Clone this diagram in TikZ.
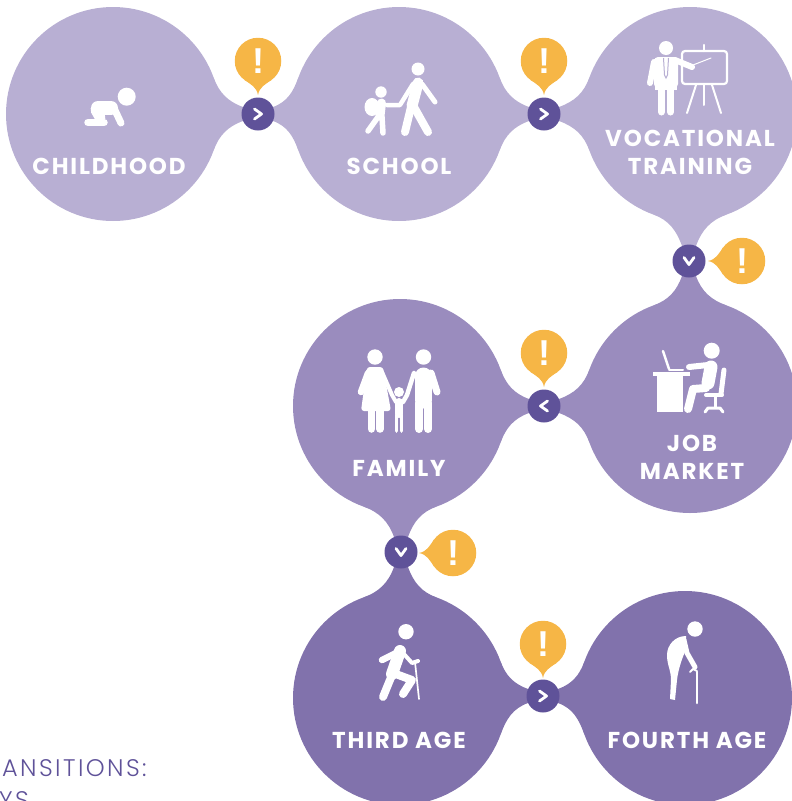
\documentclass[tikz,border=0pt]{standalone}
\usepackage{fontspec}
\setmainfont{Poppins}
\newfontfamily\capfont{Poppins}[LetterSpace=8]
\newfontfamily\captfont{Poppins Light}[LetterSpace=10]
\newfontfamily\markfont{Liberation Sans}
\usepackage{tikz}
\usetikzlibrary{calc,backgrounds}
\definecolor{lifeA}{HTML}{B8AFD3}
\definecolor{lifeB}{HTML}{9A8CBE}
\definecolor{lifeC}{HTML}{8172AC}
\definecolor{linkcol}{HTML}{5F5299}
\definecolor{warncol}{HTML}{F6B646}
\newcommand{\halfneck}[4]{%
    \pgfmathsetmacro{\pA}{#3+20}\pgfmathsetmacro{\pB}{#3-20}%
    \pgfmathsetmacro{\pC}{#3+155}\pgfmathsetmacro{\pD}{#3+205}%
    \pgfmathsetmacro{\oA}{#3-70}\pgfmathsetmacro{\iA}{#3+160}%
    \pgfmathsetmacro{\oB}{#3+200}\pgfmathsetmacro{\iB}{#3+70}%
    \fill[#4] (#1.\pA) to[out=\oA,in=\iA] (#2.\pC) -- (#2.\pD) to[out=\oB,in=\iB] (#1.\pB) -- cycle;}
\newcommand{\bubbletail}[2]{%
    \pgfmathsetmacro{\pA}{#2-35}\pgfmathsetmacro{\pB}{#2+35}%
    \pgfmathsetmacro{\oA}{#2+55}\pgfmathsetmacro{\iA}{#2+190}%
    \pgfmathsetmacro{\oB}{#2+170}\pgfmathsetmacro{\iB}{#2-55}%
    \coordinate (#1tip) at ($(#1)+(#2:34)$);
    \fill[warncol] (#1.\pA) to[out=\oA,in=\iA] (#1tip) to[out=\oB,in=\iB] (#1.\pB) -- cycle;}
\begin{document}
\begin{tikzpicture}[x=1pt,y=1pt,
    life/.style={circle,minimum size=214pt,inner sep=0pt,outer sep=0pt},
    link/.style={circle,fill=linkcol,minimum size=33pt,inner sep=0pt,outer sep=0pt},
    warn/.style={circle,fill=warncol,minimum size=46.5pt,inner sep=0pt,outer sep=0pt,text=white,font=\fontsize{36}{36}\selectfont\markfont\bfseries},
    lbl/.style={text=white,inner sep=0pt,align=center,font=\fontsize{23}{28}\selectfont\capfont\bfseries},
    capt/.style={text=linkcol,inner sep=0pt,anchor=base west,font=\fontsize{24}{27}\selectfont\captfont},
    chevron/.style={draw=white,line width=2.8pt,line cap=round,line join=round},
    icon/.style={draw=white,line cap=round,line join=round},
    dot/.style={fill=white}
]
    \useasboundingbox (0,0) rectangle (792,-801);
    \node[life,fill=lifeA] (childhood) at (113,-114) {};
    \node[life,fill=lifeA] (school) at (399,-114) {};
    \node[life,fill=lifeA] (vocational) at (690,-114) {};
    \node[life,fill=lifeB] (jobmarket) at (690,-406) {};
    \node[life,fill=lifeB] (family) at (400,-406) {};
    \node[life,fill=lifeC] (thirdage) at (400,-698) {};
    \node[life,fill=lifeC] (fourthage) at (685,-698) {};
    \node[link] (link1) at (258,-114) {};
    \node[link] (link2) at (544,-114) {};
    \node[link] (link3) at (689,-261) {};
    \node[link] (link4) at (544,-406) {};
    \node[link] (link5) at (401,-552) {};
    \node[link] (link6) at (543,-696) {};
    \begin{scope}[on background layer]
    \halfneck{childhood}{link1}{0}{lifeA}
    \halfneck{school}{link1}{180}{lifeA}
    \halfneck{school}{link2}{0}{lifeA}
    \halfneck{vocational}{link2}{180}{lifeA}
    \halfneck{vocational}{link3}{-90}{lifeA}
    \halfneck{jobmarket}{link3}{90}{lifeB}
    \halfneck{jobmarket}{link4}{180}{lifeB}
    \halfneck{family}{link4}{0}{lifeB}
    \halfneck{family}{link5}{-90}{lifeB}
    \halfneck{thirdage}{link5}{90}{lifeC}
    \halfneck{thirdage}{link6}{0}{lifeC}
    \halfneck{fourthage}{link6}{180}{lifeC}
    \end{scope}
    \foreach \lname/\ang in {link1/0,link2/0,link3/-90,link4/180,link5/-90,link6/0}
        \draw[chevron,shift={(\lname)},rotate=\ang] (-3.5,5) -- (3.5,0) -- (-3.5,-5);

    \node[warn] (warn1) at (258,-61) {!};
    \node[warn] (warn2) at (544,-61) {!};
    \node[warn] (warn3) at (742,-261) {!};
    \node[warn] (warn4) at (544,-353) {!};
    \node[warn] (warn5) at (453,-553) {!};
    \node[warn] (warn6) at (543,-644) {!};
    \begin{scope}[on background layer]
    \bubbletail{warn1}{-90}
    \bubbletail{warn2}{-90}
    \bubbletail{warn3}{180}
    \bubbletail{warn4}{-90}
    \bubbletail{warn5}{180}
    \bubbletail{warn6}{-90}
    \end{scope}

    \node[lbl] (childhoodlbl) at (109,-166) {CHILDHOOD};
    \node[lbl] (schoollbl) at (399,-166) {SCHOOL};
    \node[lbl] (vocationallbl) at (690,-152) {VOCATIONAL\\TRAINING};
    \node[lbl] (jobmarketlbl) at (692,-457) {JOB\\MARKET};
    \node[lbl] (familylbl) at (399,-468) {FAMILY};
    \node[lbl] (thirdagelbl) at (399,-740) {THIRD AGE};
    \node[lbl] (fourthagelbl) at (687,-740) {FOURTH AGE};
    \node[capt] (capt1) at (2,-776) {ANSITIONS:};
    \node[capt] (capt2) at (-1,-808) {YS};

    % baby
    \fill[dot] (126.7,-96.7) circle (9);
    \draw[icon,line width=14pt] (98,-108) -- (111,-108);
    \draw[icon,line width=7pt] (113,-106) -- (121,-123);
    \draw[icon,line width=11pt] (96,-110) -- (100,-117);
    \draw[icon,line width=7.5pt] (88,-122.5) -- (104,-122.5);
    % adult and child
    \fill[dot] (418,-69) circle (6.5);
    \draw[icon,line width=11pt] (418,-83) -- (412,-106);
    \draw[icon,line width=8pt] (411,-107) -- (405,-132);
    \draw[icon,line width=8pt] (414,-107) -- (428,-132);
    \draw[icon,line width=5pt] (422,-84) -- (435,-102);
    \draw[icon,line width=4.5pt] (413,-84) -- (400,-105) -- (387,-105);
    \fill[dot] (381,-92) circle (5.7);
    \fill[dot] (372,-107) ellipse (7.5 and 9);
    \draw[icon,line width=9pt] (381.5,-103) -- (380,-116);
    \draw[icon,line width=5.5pt] (378,-117) -- (368,-131);
    \draw[icon,line width=5.5pt] (382,-117) -- (383,-133);
    % teacher and board
    \fill[dot] (666,-48) circle (7);
    \fill[dot,rounded corners=4pt] (654,-57) rectangle (678,-88);
    \fill[dot] (655,-70) rectangle (677,-90);
    \draw[icon,line width=6pt] (654,-62) -- (650,-83);
    \draw[icon,line width=6pt] (675,-60) -- (692,-67);
    \draw[icon,line width=7pt] (661.5,-87) -- (661.5,-112);
    \draw[icon,line width=7pt] (670.5,-87) -- (670.5,-112);
    \draw[draw=lifeA,line width=1pt] (663.5,-58) -- (664.5,-75) -- (666,-78) -- (667.5,-75) -- (668.5,-58);
    \draw[icon,line width=1pt] (693,-65) -- (711,-58);
    \draw[icon,line width=2.2pt,rounded corners=3pt] (682,-51) rectangle (727,-84);
    \draw[icon,line width=2.5pt] (704,-45) -- (704,-51);
    \draw[icon,line width=2pt] (696,-85) -- (687,-113);
    \draw[icon,line width=2pt] (704,-85) -- (704,-105);
    \draw[icon,line width=2pt] (712,-85) -- (721,-113);
    % family
    \fill[dot] (375,-357) circle (7.7);
    \fill[dot] (423.5,-357) circle (7.7);
    \fill[dot] (399,-392) circle (5);
    \fill[dot,rounded corners=3pt] (367,-367) -- (383,-367) -- (391,-411) -- (361,-411) -- cycle;
    \draw[icon,line width=7.5pt] (371.5,-410) -- (371.5,-429);
    \draw[icon,line width=7.5pt] (380,-410) -- (380,-429);
    \draw[icon,line width=6.5pt] (368,-373) -- (361,-392);
    \draw[icon,line width=4pt] (382,-372) -- (392,-395) -- (396,-402);
    \draw[icon,line width=17pt] (423.5,-376) -- (423.5,-400);
    \draw[icon,line width=8pt] (419,-403) -- (419,-429);
    \draw[icon,line width=8pt] (428,-403) -- (428,-429);
    \draw[icon,line width=7pt] (431,-373) -- (437,-392);
    \draw[icon,line width=4.5pt] (414,-373) -- (407,-395) -- (403,-402);
    \draw[icon,line width=8pt] (399,-402) -- (399,-414);
    \draw[icon,line width=3.6pt] (396.5,-415) -- (396.5,-431);
    \draw[icon,line width=3.6pt] (401.5,-415) -- (401.5,-431);
    % desk and worker
    \fill[dot] (711.7,-350.7) circle (8);
    \fill[dot] (653,-372) rectangle (690,-376);
    \fill[dot] (657,-376) rectangle (683,-412);
    \draw[icon,line width=2.5pt] (663,-351) -- (669,-369);
    \draw[icon,line width=2pt] (669,-369.5) -- (683,-369.5);
    \draw[icon,line width=13pt] (711,-367) -- (708,-383);
    \draw[icon,line width=6pt] (708,-365) -- (689,-367);
    \draw[icon,line width=8pt] (706,-388) -- (693,-389) -- (688,-409);
    \draw[icon,line width=5pt] (724,-370) -- (721,-394);
    \draw[icon,line width=4pt] (706,-395) -- (722,-395);
    \draw[icon,line width=3pt] (715,-396) -- (715,-407);
    \draw[icon,line width=3pt] (705,-412) -- (708,-408) -- (720,-408) -- (723,-412);
    % walker with stick
    \fill[dot] (406,-631.7) circle (7.7);
    \draw[icon,line width=12pt] (400,-651) -- (392,-674);
    \draw[icon,line width=6.5pt] (398,-652) -- (382,-660);
    \draw[icon,line width=4pt] (403,-653) -- (412,-663) -- (418,-661);
    \draw[icon,line width=1.7pt] (415,-662) -- (419,-699);
    \draw[icon,line width=8pt] (392,-675) -- (383,-697);
    \draw[icon,line width=8pt] (393,-673) -- (412,-680) -- (403,-694);
    % bent figure with cane
    \fill[dot] (695,-629) circle (7.7);
    \fill[dot] (686,-636) .. controls (675,-636) and (667,-645) .. (667,-655) .. controls (667,-665) and (671,-670) .. (671,-680) -- (670,-699) -- (675,-700) -- (677,-680) .. controls (678,-670) and (683,-655) .. (686,-650) -- cycle;
    \draw[icon,line width=5pt] (684,-640) -- (687,-653) -- (695,-667);
    \draw[icon,line width=2.5pt] (697,-672) -- (697,-703);
    \draw[icon,line width=2pt] (690,-672) -- (693,-669) -- (697,-671);
\end{tikzpicture}
\end{document}
